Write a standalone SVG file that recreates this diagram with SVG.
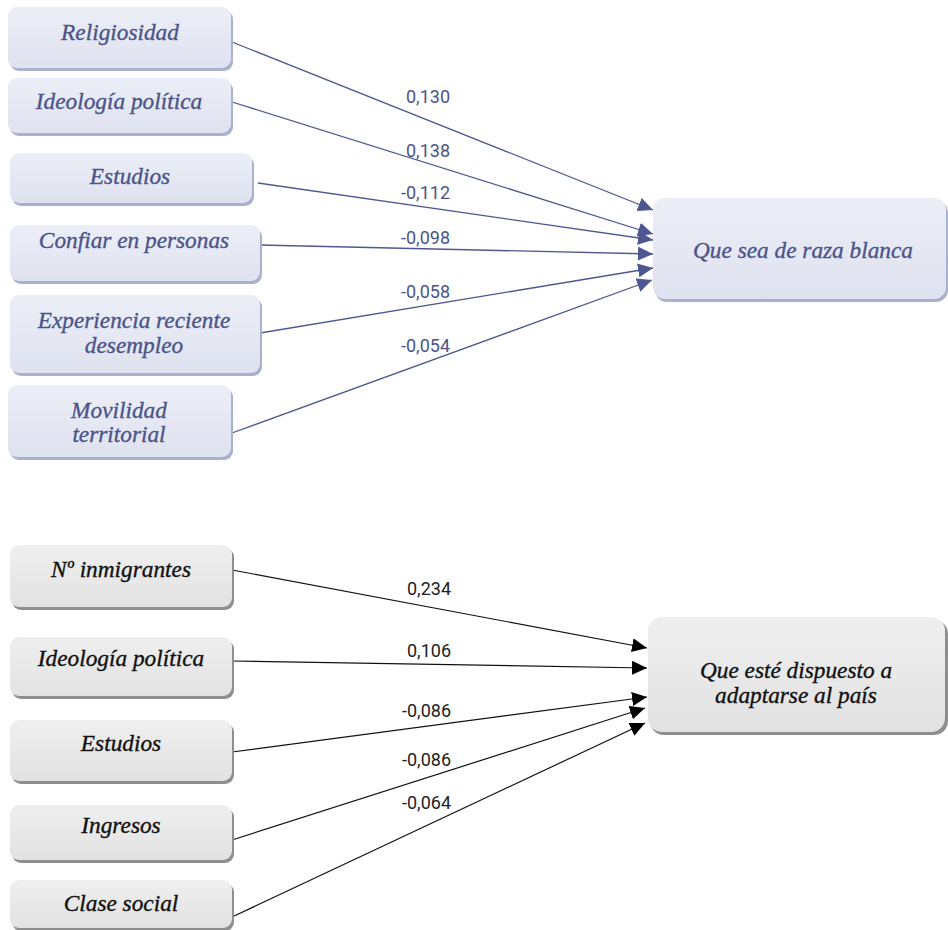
<svg xmlns="http://www.w3.org/2000/svg" width="948" height="930" viewBox="0 0 948 930">
<defs>
<linearGradient id="gb" x1="0" y1="0" x2="0" y2="1"><stop offset="0" stop-color="#eceef7"/><stop offset="1" stop-color="#dfe2ef"/></linearGradient>
<linearGradient id="gg" x1="0" y1="0" x2="0" y2="1"><stop offset="0" stop-color="#efefef"/><stop offset="1" stop-color="#e2e2e2"/></linearGradient>
<marker id="ab" markerUnits="userSpaceOnUse" markerWidth="16" markerHeight="14" refX="15" refY="7" orient="auto"><path d="M0,0 L15,7 L0,14 z" fill="#4d5892"/></marker>
<marker id="ak" markerUnits="userSpaceOnUse" markerWidth="16" markerHeight="14" refX="15" refY="7" orient="auto"><path d="M0,0 L15,7 L0,14 z" fill="#000"/></marker>
</defs>
<style>
.bs{fill:#aab0d0}
.bb{fill:url(#gb)}
.gs{fill:#8e8e8e}
.gb{fill:url(#gg)}
.tb{font-family:"Liberation Serif",serif;font-style:italic;font-size:23.3px;fill:#4b548a;stroke:#4b548a;stroke-width:0.35;text-anchor:middle}
.tk{font-family:"Liberation Serif",serif;font-style:italic;font-size:23.3px;fill:#111;stroke:#111;stroke-width:0.35;text-anchor:middle}
.cb{stroke:#4d5892;stroke-width:1.3;fill:none;marker-end:url(#ab)}
.ck{stroke:#111;stroke-width:1.2;fill:none;marker-end:url(#ak)}
.lb{font-family:Roboto,"Liberation Sans",sans-serif;font-size:18px;fill:#4b548a;text-anchor:end}
.lk{font-family:Roboto,"Liberation Sans",sans-serif;font-size:18px;fill:#222;text-anchor:end}
</style>
<rect width="948" height="930" fill="#fff"/>
<g id="connectors">
<line class="cb" x1="232" y1="42" x2="653" y2="210"/>
<line class="cb" x1="232" y1="102" x2="653" y2="234"/>
<line class="cb" x1="258" y1="183" x2="653" y2="240"/>
<line class="cb" x1="260" y1="245" x2="653" y2="254"/>
<line class="cb" x1="260" y1="333" x2="653" y2="268"/>
<line class="cb" x1="232" y1="433" x2="652" y2="280"/>
<line class="ck" x1="232" y1="570" x2="647" y2="648"/>
<line class="ck" x1="232" y1="661" x2="647" y2="668"/>
<line class="ck" x1="232" y1="752" x2="647" y2="697"/>
<line class="ck" x1="232" y1="840" x2="645" y2="708"/>
<line class="ck" x1="232" y1="917" x2="645" y2="723"/>
</g>
<g id="labels">
<text class="lb" x="450" y="103">0,130</text>
<text class="lb" x="450" y="157">0,138</text>
<text class="lb" x="450" y="199">-0,112</text>
<text class="lb" x="450" y="244">-0,098</text>
<text class="lb" x="450" y="298">-0,058</text>
<text class="lb" x="450" y="352">-0,054</text>
<text class="lk" x="451" y="595">0,234</text>
<text class="lk" x="451" y="657">0,106</text>
<text class="lk" x="451" y="717">-0,086</text>
<text class="lk" x="451" y="766">-0,086</text>
<text class="lk" x="451" y="809">-0,064</text>
</g>
<g id="n-religiosidad"><rect class="bs" x="10" y="10" width="223" height="61" rx="9"/><rect class="bb" x="8" y="7" width="223" height="61" rx="9"/><text class="tb" x="120" y="40">Religiosidad</text></g>
<g id="n-ideologia1"><rect class="bs" x="10" y="81" width="223" height="55" rx="9"/><rect class="bb" x="8" y="78" width="223" height="55" rx="9"/><text class="tb" x="119" y="109">Ideología política</text></g>
<g id="n-estudios1"><rect class="bs" x="12" y="156" width="242" height="50" rx="9"/><rect class="bb" x="10" y="153" width="242" height="50" rx="9"/><text class="tb" x="130" y="184">Estudios</text></g>
<g id="n-confiar"><rect class="bs" x="12" y="228" width="250" height="56" rx="9"/><rect class="bb" x="10" y="225" width="250" height="56" rx="9"/><text class="tb" x="134" y="248">Confiar en personas</text></g>
<g id="n-experiencia"><rect class="bs" x="12" y="298" width="250" height="78" rx="9"/><rect class="bb" x="10" y="295" width="250" height="78" rx="9"/><text class="tb" x="134" y="328">Experiencia reciente</text><text class="tb" x="134" y="353">desempleo</text></g>
<g id="n-movilidad"><rect class="bs" x="10" y="388" width="223" height="72" rx="9"/><rect class="bb" x="8" y="385" width="223" height="72" rx="9"/><text class="tb" x="119" y="418">Movilidad</text><text class="tb" x="119" y="442">territorial</text></g>
<g id="n-raza"><rect class="bs" x="655" y="201" width="293" height="101" rx="12"/><rect class="bb" x="653" y="198" width="293" height="101" rx="12"/><text class="tb" x="803" y="258">Que sea de raza blanca</text></g>
<g id="n-inmigrantes"><rect class="gs" x="12" y="548" width="222" height="62" rx="9"/><rect class="gb" x="10" y="545" width="222" height="62" rx="9"/><text class="tk" x="121" y="577">Nº inmigrantes</text></g>
<g id="n-ideologia2"><rect class="gs" x="12" y="640" width="222" height="59" rx="9"/><rect class="gb" x="10" y="637" width="222" height="59" rx="9"/><text class="tk" x="121" y="666">Ideología política</text></g>
<g id="n-estudios2"><rect class="gs" x="12" y="723" width="222" height="61" rx="9"/><rect class="gb" x="10" y="720" width="222" height="61" rx="9"/><text class="tk" x="121" y="751">Estudios</text></g>
<g id="n-ingresos"><rect class="gs" x="12" y="808" width="222" height="55" rx="9"/><rect class="gb" x="10" y="805" width="222" height="55" rx="9"/><text class="tk" x="121" y="833">Ingresos</text></g>
<g id="n-clase"><rect class="gs" x="12" y="883" width="222" height="48" rx="9"/><rect class="gb" x="10" y="880" width="222" height="48" rx="9"/><text class="tk" x="121" y="911">Clase social</text></g>
<g id="n-adaptarse"><rect class="gs" x="650" y="620" width="298" height="115" rx="14"/><rect class="gb" x="648" y="617" width="297" height="115" rx="14"/><text class="tk" x="796" y="678">Que esté dispuesto a</text><text class="tk" x="796" y="703">adaptarse al país</text></g>
</svg>
